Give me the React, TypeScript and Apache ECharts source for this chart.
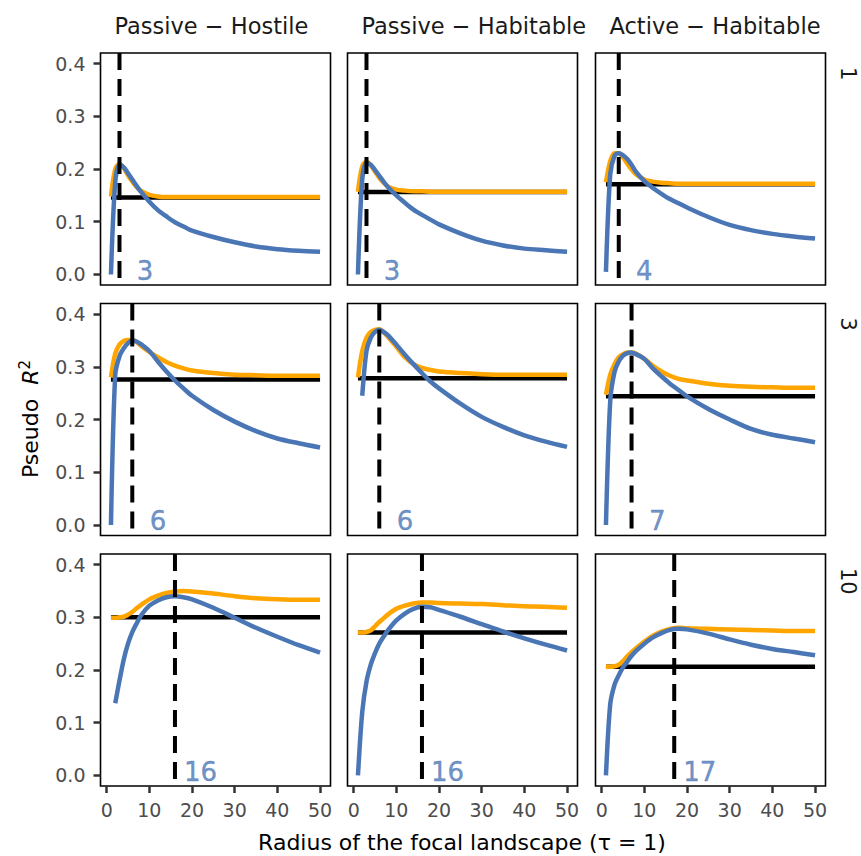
import React, { useEffect, useRef } from 'react';
import * as echarts from 'echarts';

// ---------- data ----------
const radius = [1, 2, 3, 4, 5, 6, 7, 8, 10, 12, 14, 16, 18, 20, 25, 30, 35, 40, 45, 50];
const colLabels = ['Passive − Hostile', 'Passive − Habitable', 'Active − Habitable'];
const rowLabels = ['1', '3', '10'];
const xTicks = [0, 10, 20, 30, 40, 50];
const yTicks = [0, 0.1, 0.2, 0.3, 0.4];

const bestRadius = [
  [3, 3, 4],
  [6, 6, 7],
  [16, 16, 17],
];
const baseline = [
  [0.146, 0.1565, 0.171],
  [0.276, 0.278, 0.244],
  [0.3, 0.271, 0.206],
];

const blueR1C1 = [0.0, 0.175, 0.208, 0.203, 0.192, 0.18, 0.168, 0.157, 0.138, 0.122, 0.11, 0.099, 0.091, 0.083, 0.071, 0.061, 0.053, 0.048, 0.045, 0.043];
const orangeR1C1 = [0.148, 0.2, 0.21, 0.202, 0.188, 0.176, 0.166, 0.159, 0.151, 0.148, 0.147, 0.147, 0.147, 0.147, 0.147, 0.147, 0.147, 0.147, 0.147, 0.147];
const blueR1C2 = [0.0, 0.18, 0.212, 0.208, 0.198, 0.187, 0.176, 0.166, 0.15, 0.136, 0.123, 0.113, 0.104, 0.095, 0.078, 0.064, 0.055, 0.049, 0.046, 0.043];
const orangeR1C2 = [0.157, 0.205, 0.214, 0.207, 0.195, 0.183, 0.174, 0.167, 0.161, 0.159, 0.158, 0.158, 0.157, 0.157, 0.157, 0.157, 0.157, 0.157, 0.157, 0.157];
const blueR1C3 = [0.005, 0.19, 0.225, 0.23, 0.226, 0.219, 0.208, 0.195, 0.177, 0.164, 0.153, 0.143, 0.135, 0.127, 0.109, 0.094, 0.084, 0.077, 0.072, 0.068];
const orangeR1C3 = [0.175, 0.215, 0.23, 0.23, 0.222, 0.21, 0.199, 0.19, 0.18, 0.176, 0.174, 0.173, 0.172, 0.172, 0.172, 0.172, 0.172, 0.172, 0.172, 0.172];

const blueR2C1 = [0.0, 0.285, 0.32, 0.335, 0.345, 0.35, 0.348, 0.343, 0.33, 0.31, 0.291, 0.274, 0.259, 0.245, 0.218, 0.196, 0.178, 0.164, 0.155, 0.147];
const orangeR2C1 = [0.28, 0.325, 0.342, 0.349, 0.351, 0.351, 0.347, 0.34, 0.328, 0.318, 0.309, 0.302, 0.297, 0.293, 0.288, 0.285, 0.284, 0.283, 0.283, 0.283];
const blueR2C2 = [null, 0.245, 0.33, 0.355, 0.366, 0.37, 0.366, 0.36, 0.342, 0.323, 0.305, 0.288, 0.272, 0.259, 0.23, 0.205, 0.186, 0.17, 0.158, 0.148];
const orangeR2C2 = [0.28, 0.33, 0.355, 0.366, 0.37, 0.371, 0.366, 0.357, 0.338, 0.318, 0.305, 0.298, 0.294, 0.291, 0.288, 0.286, 0.285, 0.285, 0.285, 0.285];
const blueR2C3 = [0.0, 0.235, 0.29, 0.31, 0.321, 0.326, 0.327, 0.324, 0.315, 0.297, 0.282, 0.268, 0.256, 0.244, 0.22, 0.2, 0.182, 0.171, 0.164, 0.157];
const orangeR2C3 = [0.247, 0.285, 0.305, 0.318, 0.324, 0.327, 0.327, 0.325, 0.315, 0.302, 0.291, 0.283, 0.277, 0.274, 0.268, 0.264, 0.262, 0.261, 0.26, 0.26];

const blueR3C1 = [null, 0.137, 0.18, 0.22, 0.25, 0.272, 0.288, 0.303, 0.322, 0.332, 0.338, 0.34, 0.338, 0.334, 0.318, 0.299, 0.28, 0.263, 0.247, 0.233];
const orangeR3C1 = [0.299, 0.299, 0.3, 0.301, 0.305, 0.31, 0.317, 0.323, 0.334, 0.341, 0.346, 0.349, 0.35, 0.349, 0.345, 0.34, 0.336, 0.334, 0.333, 0.333];
const blueR3C2 = [0.0, 0.12, 0.178, 0.21, 0.232, 0.25, 0.263, 0.275, 0.294, 0.307, 0.316, 0.32, 0.319, 0.314, 0.301, 0.287, 0.273, 0.26, 0.248, 0.237];
const orangeR3C2 = [0.271, 0.271, 0.272, 0.275, 0.283, 0.291, 0.298, 0.305, 0.316, 0.322, 0.326, 0.328, 0.328, 0.327, 0.326, 0.325, 0.323, 0.321, 0.32, 0.318];
const blueR3C3 = [0.0, 0.135, 0.172, 0.19, 0.205, 0.216, 0.227, 0.236, 0.25, 0.262, 0.27, 0.276, 0.278, 0.277, 0.269, 0.258, 0.248, 0.24, 0.234, 0.228];
const orangeR3C3 = [0.206, 0.206, 0.207, 0.21, 0.217, 0.226, 0.234, 0.241, 0.254, 0.265, 0.273, 0.278, 0.28, 0.279, 0.278, 0.277, 0.276, 0.275, 0.274, 0.274];

const blueSeries = [
  [blueR1C1, blueR1C2, blueR1C3],
  [blueR2C1, blueR2C2, blueR2C3],
  [blueR3C1, blueR3C2, blueR3C3],
];
const orangeSeries = [
  [orangeR1C1, orangeR1C2, orangeR1C3],
  [orangeR2C1, orangeR2C2, orangeR2C3],
  [orangeR3C1, orangeR3C2, orangeR3C3],
];

// ---------- layout / style ----------
const GRID_LEFT = [100.5, 347.5, 595.5];
const GRID_TOP = [53, 303.5, 554];
const PANEL_W = 230;
const PANEL_H = 232;
const X_MIN = -1.45;
const X_MAX = 52.45;
const Y_MIN = -0.02;
const Y_MAX = 0.42;
const FONT = 'DejaVu Sans';
const BLUE = '#4A76B5';
const ORANGE = '#FFA500';
const LW = 4.5;
const TICK_FS = 19;

export default function App() {
  const ref = useRef<HTMLDivElement>(null);

  useEffect(() => {
    const chart = echarts.init(ref.current!, null, { renderer: 'svg' });
    const grids: any[] = [];
    const xAxes: any[] = [];
    const yAxes: any[] = [];
    const series: any[] = [];

    for (let r = 0; r < 3; r++) {
      for (let c = 0; c < 3; c++) {
        const i = r * 3 + c;
        grids.push({
          left: GRID_LEFT[c],
          top: GRID_TOP[r],
          width: PANEL_W,
          height: PANEL_H,
          show: true,
          borderColor: '#000',
          borderWidth: 1.6,
          backgroundColor: 'transparent',
        });
        xAxes.push({
          gridIndex: i,
          type: 'value',
          min: X_MIN,
          max: X_MAX,
          axisLine: { show: false, onZero: false },
          splitLine: { show: false },
          axisTick: {
            show: r === 2,
            length: 7,
            customValues: xTicks,
            lineStyle: { color: '#333', width: 2.5 },
          },
          axisLabel: {
            show: r === 2,
            customValues: xTicks,
            margin: 14,
            fontSize: TICK_FS,
            color: '#4D4D4D',
            fontFamily: FONT,
          },
        });
        yAxes.push({
          gridIndex: i,
          type: 'value',
          min: Y_MIN,
          max: Y_MAX,
          axisLine: { show: false, onZero: false },
          splitLine: { show: false },
          axisTick: {
            show: c === 0,
            length: 7,
            customValues: yTicks,
            lineStyle: { color: '#333', width: 2.5 },
          },
          axisLabel: {
            show: c === 0,
            customValues: yTicks,
            margin: 15,
            fontSize: TICK_FS,
            color: '#4D4D4D',
            fontFamily: FONT,
            formatter: (v: number) => v.toFixed(1),
          },
        });

        const best = bestRadius[r][c];
        const base = baseline[r][c];
        series.push({
          type: 'line',
          xAxisIndex: i,
          yAxisIndex: i,
          data: [[radius[0], base], [radius[radius.length - 1], base]],
          symbol: 'none',
          lineStyle: { color: '#000', width: LW },
          z: 2,
          silent: true,
        });
        series.push({
          type: 'line',
          xAxisIndex: i,
          yAxisIndex: i,
          data: radius.map((x, k) => [x, orangeSeries[r][c][k]]),
          symbol: 'none',
          smooth: 0.3,
          lineStyle: { color: ORANGE, width: LW },
          z: 3,
          silent: true,
        });
        series.push({
          type: 'line',
          xAxisIndex: i,
          yAxisIndex: i,
          data: radius
            .map((x, k) => [x, blueSeries[r][c][k]])
            .filter((p) => p[1] !== null),
          symbol: 'none',
          smooth: 0.3,
          lineStyle: { color: BLUE, width: LW },
          z: 4,
          silent: true,
        });
        series.push({
          type: 'line',
          xAxisIndex: i,
          yAxisIndex: i,
          data: [[best, Y_MAX], [best, Y_MIN]],
          symbol: 'none',
          lineStyle: { color: '#000', width: 4, type: [17, 9] },
          z: 5,
          silent: true,
        });
        series.push({
          type: 'scatter',
          xAxisIndex: i,
          yAxisIndex: i,
          data: [[best + 6, 0.007]],
          symbolSize: 0,
          itemStyle: { color: BLUE },
          z: 6,
          silent: true,
          label: {
            show: true,
            position: [0, 0],
            align: 'center',
            verticalAlign: 'middle',
            formatter: String(best),
            color: BLUE,
            fontSize: 26,
            fontFamily: FONT,
            textBorderColor: BLUE,
            textBorderWidth: 0.4,
          },
        });
      }
    }

    const graphics: any[] = [];
    for (let c = 0; c < 3; c++) {
      graphics.push({
        type: 'text',
        x: GRID_LEFT[c] + 14,
        y: 26,
        style: {
          text: colLabels[c],
          fontSize: 22.5,
          fontFamily: FONT,
          fill: '#1A1A1A',
          align: 'left',
          verticalAlign: 'middle',
        },
      });
    }
    for (let r = 0; r < 3; r++) {
      graphics.push({
        type: 'text',
        x: 848,
        y: GRID_TOP[r] + 14,
        rotation: -Math.PI / 2,
        style: {
          text: rowLabels[r],
          fontSize: 21,
          fontFamily: FONT,
          fill: '#1A1A1A',
          align: 'left',
          verticalAlign: 'middle',
        },
      });
    }
    graphics.push({
      type: 'text',
      x: 30,
      y: 419,
      rotation: Math.PI / 2,
      style: {
        text: '{n|Pseudo  }{i|R}{s|2}',
        align: 'center',
        verticalAlign: 'middle',
        fill: '#000',
        rich: {
          n: { fontSize: 22, fontFamily: FONT, fill: '#000', lineHeight: 26 },
          i: { fontSize: 22, fontFamily: FONT, fontStyle: 'italic', fill: '#000', lineHeight: 26 },
          s: { fontSize: 15, fontFamily: FONT, fill: '#000', verticalAlign: 'top', lineHeight: 26, padding: [0, 0, 12, 0] },
        },
      },
    });
    graphics.push({
      type: 'text',
      x: 462,
      y: 842,
      style: {
        text: 'Radius of the focal landscape (τ = 1)',
        fontSize: 22,
        fontFamily: FONT,
        fill: '#000',
        align: 'center',
        verticalAlign: 'middle',
      },
    });

    chart.setOption({
      animation: false,
      backgroundColor: '#fff',
      textStyle: { fontFamily: FONT },
      grid: grids,
      xAxis: xAxes,
      yAxis: yAxes,
      series,
      graphic: graphics,
    });
    return () => chart.dispose();
  }, []);

  return (
    <div
      ref={ref}
      style={{ position: 'fixed', left: 0, top: 0, width: 861, height: 856 }}
    />
  );
}
